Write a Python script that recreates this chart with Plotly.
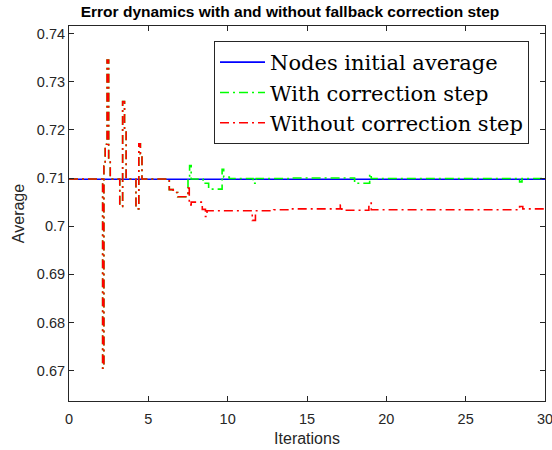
import plotly.graph_objects as go

# ---- data ----
x_range = [0, 30]
y_ticks = [0.67, 0.68, 0.69, 0.70, 0.71, 0.72, 0.73, 0.74]
y_ticktext = ["0.67", "0.68", "0.69", "0.7", "0.71", "0.72", "0.73", "0.74"]
x_ticks = [0, 5, 10, 15, 20, 25, 30]

avg_t = [0, 30]
avg_v = [0.70975, 0.70975]

# common early part (both series overlap)
common_t = [0, 2.12, 2.20, 2.28, 2.40, 2.50, 2.60, 3.20, 3.38, 3.50, 3.60,
            4.22, 4.40, 4.50, 4.60, 6.32, 6.57, 6.85]
common_v = [0.7098, 0.6705, 0.7125, 0.7170, 0.7345, 0.7140, 0.7098, 0.7041,
            0.7259, 0.7200, 0.7098, 0.7036, 0.7171, 0.7150, 0.7098, 0.7076,
            0.7070, 0.7061]

with_t = common_t + [7.50, 7.60, 7.70, 8.45, 8.80, 9.65, 9.75, 10.10, 11.60,
                     11.80, 14.00, 18.00, 18.95, 19.05, 28.40, 28.55, 30.0]
with_v = common_v + [0.7098, 0.7126, 0.7098, 0.7089, 0.7077, 0.7118, 0.7102,
                     0.7099, 0.7089, 0.7099, 0.7100, 0.7089, 0.7108, 0.7099,
                     0.7092, 0.7099, 0.7099]

without_t = common_t + [7.50, 7.58, 7.70, 8.40, 8.60, 8.70, 11.55, 11.75,
                        12.90, 14.00, 17.10, 17.20, 18.90, 19.05, 28.40,
                        28.60, 30.0]
without_v = common_v + [0.7079, 0.7044, 0.7050, 0.7035, 0.7020, 0.7032,
                        0.7012, 0.7032, 0.7034, 0.7036, 0.7044, 0.7033,
                        0.7048, 0.7034, 0.7041, 0.7036, 0.7036]

names = ["Nodes initial average", "With correction step", "Without correction step"]
title = "Error dynamics with and without fallback correction step"

dash_pattern = "9px,4px,2px,4px"

fig = go.Figure()
fig.add_trace(go.Scatter(x=avg_t, y=avg_v, mode="lines", name=names[0],
                         line=dict(color="#0000FF", width=1.6)))
fig.add_trace(go.Scatter(x=with_t, y=with_v, mode="lines", name=names[1],
                         line=dict(color="#00FF00", width=1.6, shape="hv",
                                   dash=dash_pattern)))
fig.add_trace(go.Scatter(x=without_t, y=without_v, mode="lines", name=names[2],
                         line=dict(color="#FF0000", width=1.6, shape="hv",
                                   dash=dash_pattern)))

axis_color = "#262626"
fig.update_layout(
    width=552, height=450,
    margin=dict(l=69, r=7, t=26, b=49, autoexpand=False),
    paper_bgcolor="white", plot_bgcolor="white",
    font=dict(family="Liberation Sans, Arial, sans-serif", size=14.5, color=axis_color),
    title=dict(text="<b>" + title + "</b>", x=290 / 552, xanchor="center",
               y=1 - 12 / 450, yanchor="middle",
               font=dict(family="Liberation Sans, Arial, sans-serif", size=15.5, color="black")),
    showlegend=True,
    legend=dict(x=0.9664, xanchor="right", y=0.96, yanchor="top",
                bgcolor="white", bordercolor=axis_color, borderwidth=1,
                font=dict(family="DejaVu Serif, serif", size=21, color="black"),
                itemwidth=45, tracegroupgap=0),
    xaxis=dict(range=x_range, tickvals=x_ticks, ticks="inside", ticklen=5,
               tickcolor=axis_color, showline=True, linecolor=axis_color, linewidth=1,
               mirror="ticks", showgrid=False, zeroline=False, ticklabelstandoff=5,
               ticklabeloverflow="allow",
               title=dict(text="Iterations", standoff=6, font=dict(size=16))),
    yaxis=dict(range=[0.66371, 0.74156], tickvals=y_ticks, ticktext=y_ticktext,
               ticks="inside", ticklen=5, tickcolor=axis_color, showline=True,
               linecolor=axis_color, linewidth=1, mirror="ticks", showgrid=False,
               zeroline=False,
               title=dict(text="Average", standoff=8, font=dict(size=16))),
)

fig.write_html("out.html")
